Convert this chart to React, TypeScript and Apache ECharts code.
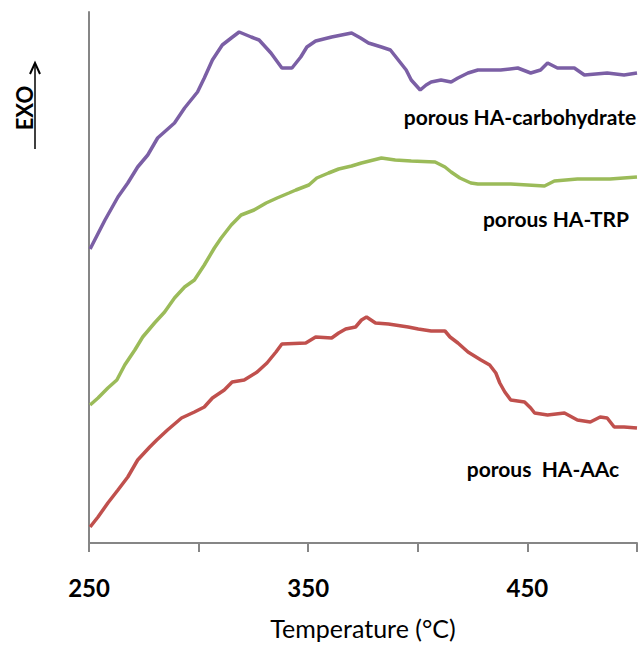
import React, { useEffect, useRef } from "react";
import * as echarts from "echarts";

// Temperature (°C) and DSC signal (arbitrary units, exo up)
const carbohydrateT = [250.5, 257.3, 263.2, 267.7, 272.2, 276.8, 281.3, 289.0, 293.6, 299.5, 302.6, 306.3, 310.8, 314.9, 318.5, 324.0, 327.6, 333.0, 338.0, 339.8, 342.6, 346.6, 349.4, 353.4, 360.7, 369.8, 373.9, 377.5, 383.4, 387.5, 391.1, 394.7, 397.0, 401.1, 403.8, 406.1, 410.6, 415.2, 418.3, 422.9, 427.4, 437.8, 445.6, 451.5, 456.0, 459.2, 463.7, 471.4, 476.0, 486.4, 494.1, 500];
const carbohydrateV = [294, 323, 346, 360, 376, 388, 405, 420, 435, 451, 465, 483, 498, 505, 511, 506, 503, 490, 475, 475, 475, 486, 496, 502, 506, 510, 505, 500, 496, 493, 483, 473, 463, 453, 458, 461, 463, 461, 465, 470, 473, 473, 475, 470, 473, 480, 475, 475, 468, 470, 468, 470];

const trpT = [250.5, 254.1, 258.6, 262.7, 266.3, 270.9, 274.5, 279.9, 284.5, 289.0, 293.6, 298.1, 302.6, 307.2, 310.3, 314.9, 319.4, 325.3, 330.8, 335.8, 341.2, 344.4, 350.3, 353.9, 359.3, 363.9, 369.8, 374.3, 383.4, 389.7, 397.0, 407.9, 412.4, 415.2, 419.2, 424.2, 427.4, 442.4, 457.8, 462.3, 472.8, 487.7, 500];
const trpV = [138, 145, 155, 163, 178, 193, 206, 220, 231, 245, 256, 263, 278, 295, 305, 318, 328, 333, 340, 345, 350, 353, 358, 365, 370, 374, 377, 380, 385, 383, 382, 381, 376, 371, 365, 360, 359, 359, 357, 362, 364, 364, 366];

const aacT = [250.5, 254.1, 258.6, 263.2, 267.7, 272.2, 277.7, 280.9, 285.8, 292.2, 298.1, 302.6, 306.3, 311.7, 315.3, 320.8, 326.7, 331.2, 335.3, 338.0, 348.9, 353.4, 360.7, 363.9, 367.1, 371.6, 374.3, 376.6, 380.7, 386.6, 395.6, 400.2, 406.1, 412.4, 414.7, 418.3, 422.9, 428.8, 432.8, 435.6, 437.4, 439.7, 442.4, 448.7, 451.5, 453.3, 459.2, 466.9, 472.8, 478.7, 483.2, 486.4, 489.6, 494.1, 500];
const aacV = [16, 26, 40, 53, 66, 83, 96, 103, 113, 125, 131, 136, 145, 153, 161, 163, 171, 180, 191, 199, 200, 206, 205, 210, 214, 216, 223, 226, 220, 219, 216, 214, 212, 212, 206, 200, 191, 183, 178, 170, 160, 151, 143, 141, 135, 130, 128, 130, 123, 121, 126, 125, 116, 116, 115];

const seriesNames = ["porous HA-carbohydrate", "porous HA-TRP", "porous  HA-AAc"];
const seriesColors = ["#7B5FA5", "#9BBB59", "#C0504D"];
const xLabelValues = [250, 350, 450];

const zip = (a: number[], b: number[]) => a.map((t, i) => [t, b[i]]);

export default function App() {
  const ref = useRef<HTMLDivElement>(null);
  useEffect(() => {
    if (!ref.current) return;
    const chart = echarts.init(ref.current, null, { renderer: "svg" });
    const data = [zip(carbohydrateT, carbohydrateV), zip(trpT, trpV), zip(aacT, aacV)];
    const labelStyle = { fontFamily: "Lato", fontSize: 21, fontWeight: "bold", fill: "#000", align: "center", verticalAlign: "middle" };
    chart.setOption({
      animation: false,
      backgroundColor: "#ffffff",
      grid: { left: 89, right: 0, top: 12, bottom: 102, containLabel: false },
      xAxis: {
        type: "value",
        min: 250,
        max: 500,
        interval: 50,
        name: "Temperature (°C)",
        nameLocation: "middle",
        nameGap: 72,
        nameTextStyle: { fontFamily: "Lato", fontSize: 25, color: "#000", fontWeight: "normal" },
        axisLine: { show: true, lineStyle: { color: "#868686", width: 2 } },
        axisTick: { show: true, inside: false, length: 9, lineStyle: { color: "#868686", width: 2 } },
        axisLabel: {
          margin: 32,
          fontFamily: "Lato",
          fontSize: 24,
          fontWeight: "bold",
          color: "#000",
          showMaxLabel: true,
          formatter: (v: number) => (xLabelValues.includes(v) ? String(v) : ""),
        },
        splitLine: { show: false },
      },
      yAxis: {
        type: "value",
        min: 0,
        max: 531,
        axisLine: { show: true, lineStyle: { color: "#868686", width: 2 } },
        axisTick: { show: false },
        axisLabel: { show: false },
        splitLine: { show: false },
      },
      series: data.map((d, i) => ({
        type: "line",
        name: seriesNames[i],
        data: d,
        showSymbol: false,
        symbol: "none",
        lineStyle: { color: seriesColors[i], width: 3.5 },
        itemStyle: { color: seriesColors[i] },
        z: 3,
      })),
      graphic: [
        { type: "text", x: 520, y: 116, style: { ...labelStyle, text: seriesNames[0] } },
        { type: "text", x: 556, y: 218, style: { ...labelStyle, text: seriesNames[1] } },
        { type: "text", x: 543, y: 468, style: { ...labelStyle, text: seriesNames[2] } },
        {
          type: "text",
          x: 24,
          y: 108,
          rotation: Math.PI / 2,
          style: { text: "EXO", fontFamily: "Lato", fontSize: 22, fontWeight: "bold", fill: "#000", align: "center", verticalAlign: "middle" },
        },
        {
          type: "line",
          shape: { x1: 35, y1: 149, x2: 35, y2: 64 },
          style: { stroke: "#000", lineWidth: 1.5 },
        },
        {
          type: "polyline",
          shape: { points: [[30, 74], [35, 63], [40, 74]] },
          style: { stroke: "#000", lineWidth: 2, fill: null },
        },
      ],
    });
    return () => chart.dispose();
  }, []);
  return <div ref={ref} style={{ position: "fixed", left: 0, top: 0, width: 640, height: 645 }} />;
}
